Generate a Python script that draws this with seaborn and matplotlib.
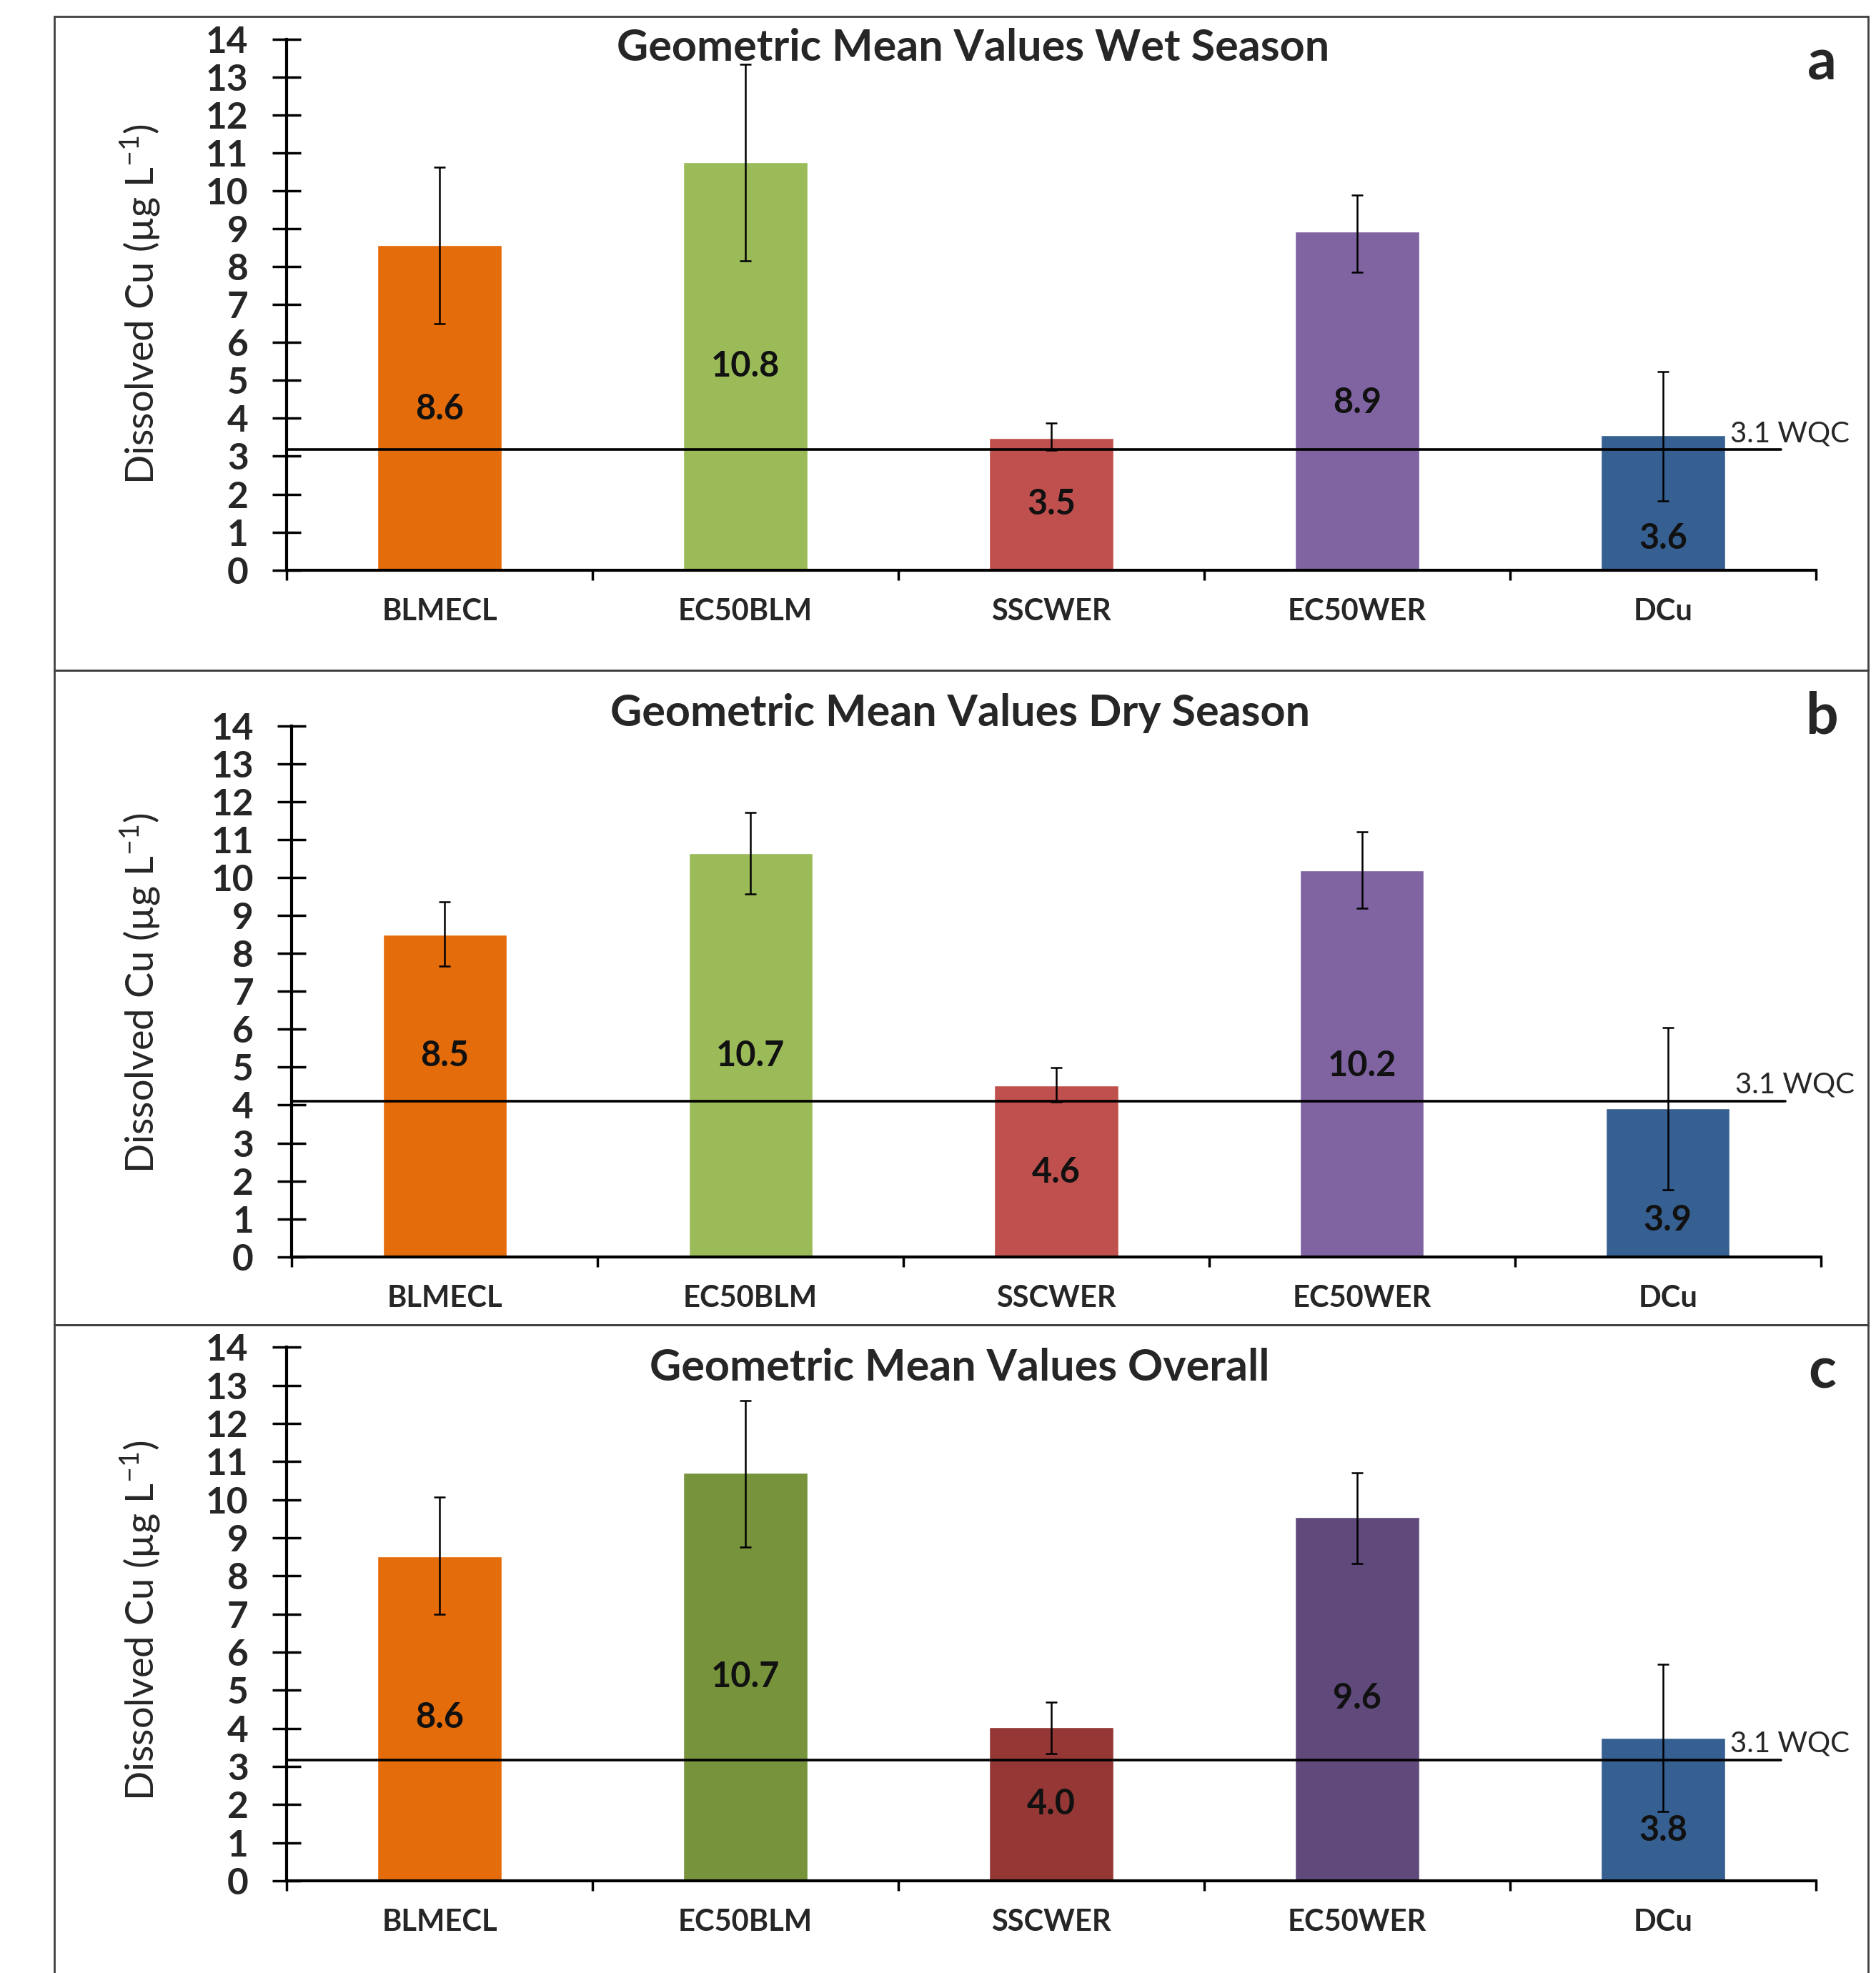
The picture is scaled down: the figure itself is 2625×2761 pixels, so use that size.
import matplotlib
matplotlib.use("Agg")
import matplotlib.pyplot as plt
import pandas as pd
import seaborn as sns
from matplotlib.patches import Rectangle

# ---- data ----
categories = ["BLMECL", "EC50BLM", "SSCWER", "EC50WER", "DCu"]

wet_mean = [8.56, 10.75, 3.48, 8.92, 3.55]
wet_low = [6.50, 8.16, 3.15, 7.86, 1.82]
wet_high = [10.62, 13.34, 3.88, 9.89, 5.24]
wet_labels = ["8.6", "10.8", "3.5", "8.9", "3.6"]
wet_wqc = 3.17

dry_mean = [8.49, 10.65, 4.51, 10.19, 3.92]
dry_low = [7.66, 9.56, 4.08, 9.19, 1.76]
dry_high = [9.36, 11.71, 4.98, 11.21, 6.04]
dry_labels = ["8.5", "10.7", "4.6", "10.2", "3.9"]
dry_wqc = 4.11

all_mean = [8.52, 10.70, 4.03, 9.54, 3.76]
all_low = [7.00, 8.75, 3.33, 8.32, 1.82]
all_high = [10.07, 12.61, 4.69, 10.70, 5.68]
all_labels = ["8.6", "10.7", "4.0", "9.6", "3.8"]
all_wqc = 3.17

titles = ["Geometric Mean Values Wet Season",
          "Geometric Mean Values Dry Season",
          "Geometric Mean Values Overall"]
panel_letters = ["a", "b", "c"]
wqc_text = "3.1 WQC"
ylabel = r"Dissolved Cu (µg L$^{\mathregular{-1}}$)"

season_colors = ["#E46C0A", "#9BBB59", "#C0504D", "#8064A2", "#376092"]
overall_colors = ["#E46C0A", "#77933C", "#953735", "#604A7B", "#376092"]

# ---- layout (figure fractions) ----
axes_rects = [[0.1528, 0.7111, 0.8152, 0.2691],
              [0.1556, 0.3630, 0.8149, 0.2691],
              [0.1528, 0.0467, 0.8152, 0.2704]]
box_edges = [0.99167, 0.6603, 0.3285, -0.02]
title_pos = [(0.449, 0.983), (0.437, 1.024), (0.440, 0.962)]
letter_y = [0.968, 0.6365, 0.3048]
ylabel_y = [0.8457, 0.4968, 0.1786]
value_label_y = [[4.25, 5.37, 1.73, 4.41, 0.83],
                 [5.30, 5.30, 2.22, 5.04, 0.96],
                 [4.29, 5.35, 2.01, 4.79, 1.32]]

sns.set_style("white")
plt.rcParams["font.family"] = ["Lato", "DejaVu Sans"]
plt.rcParams["mathtext.fontset"] = "custom"
plt.rcParams["mathtext.rm"] = "Lato"
plt.rcParams["mathtext.it"] = "Lato:italic"
plt.rcParams["mathtext.bf"] = "Lato:bold"

fig = plt.figure(figsize=(26.25, 27.61), dpi=100)

# panel frames
for top, bottom in zip(box_edges[:-1], box_edges[1:]):
    fig.add_artist(Rectangle((0.0290, bottom), 0.9668, top - bottom,
                             transform=fig.transFigure, fill=False,
                             edgecolor="#404040", linewidth=2))

panels = [
    (wet_mean, wet_low, wet_high, wet_labels, wet_wqc, season_colors),
    (dry_mean, dry_low, dry_high, dry_labels, dry_wqc, season_colors),
    (all_mean, all_low, all_high, all_labels, all_wqc, overall_colors),
]

for i, (mean, low, high, labels, wqc, colors) in enumerate(panels):
    ax = fig.add_axes(axes_rects[i])
    ax.patch.set_alpha(0)
    df = pd.DataFrame({"cat": categories, "val": mean})
    sns.barplot(data=df, x="cat", y="val", hue="cat", palette=colors,
                saturation=1, width=0.405, errorbar=None, legend=False, ax=ax)
    yerr = [[m - lo for m, lo in zip(mean, low)],
            [hi - m for m, hi in zip(mean, high)]]
    ax.errorbar(range(len(categories)), mean, yerr=yerr, fmt="none",
                ecolor="black", elinewidth=1.8, capsize=6, capthick=1.8, zorder=4)

    ax.axhline(wqc, xmin=0, xmax=0.977, color="black", lw=2.6, zorder=5)
    ax.text(4.22, wqc + 0.08, wqc_text, fontsize=29, va="bottom", ha="left",
            zorder=6)

    for x, (ly, lab) in enumerate(zip(value_label_y[i], labels)):
        ax.text(x, ly, lab, ha="center", va="center", fontsize=35,
                fontweight="bold", color="#111111", zorder=6)

    ax.set_xlim(-0.5, 4.5)
    ax.set_ylim(0, 14)
    ax.set_yticks(range(0, 15))
    ax.set_xlabel("")
    ax.set_ylabel("")
    ax.set_xticks(range(len(categories)))
    ax.set_xticklabels(categories, fontsize=30, fontweight="bold")
    ax.set_xticks([x - 0.5 for x in range(len(categories) + 1)], minor=True)
    ax.tick_params(axis="x", which="major", bottom=True, length=0, pad=28)
    ax.tick_params(axis="x", which="minor", bottom=True, direction="out",
                   length=10, width=2.5, color="black")
    ax.tick_params(axis="y", which="major", left=True, direction="inout",
                   length=29, width=2.5, color="black", labelsize=37, pad=24)
    for t in ax.get_yticklabels():
        t.set_fontweight("bold")
    for side in ["top", "right"]:
        ax.spines[side].set_visible(False)
    for side in ["left", "bottom"]:
        ax.spines[side].set_color("black")
        ax.spines[side].set_linewidth(3)

    ax.text(title_pos[i][0], title_pos[i][1], titles[i], transform=ax.transAxes,
            ha="center", va="center", fontsize=44, fontweight="bold")
    fig.text(0.9712, letter_y[i], panel_letters[i], ha="center", va="center",
             fontsize=58, fontweight="bold")
    fig.text(0.0751, ylabel_y[i], ylabel, rotation=90, ha="center",
             va="center", fontsize=39)

fig.savefig("out.png", dpi=100, facecolor="white")
